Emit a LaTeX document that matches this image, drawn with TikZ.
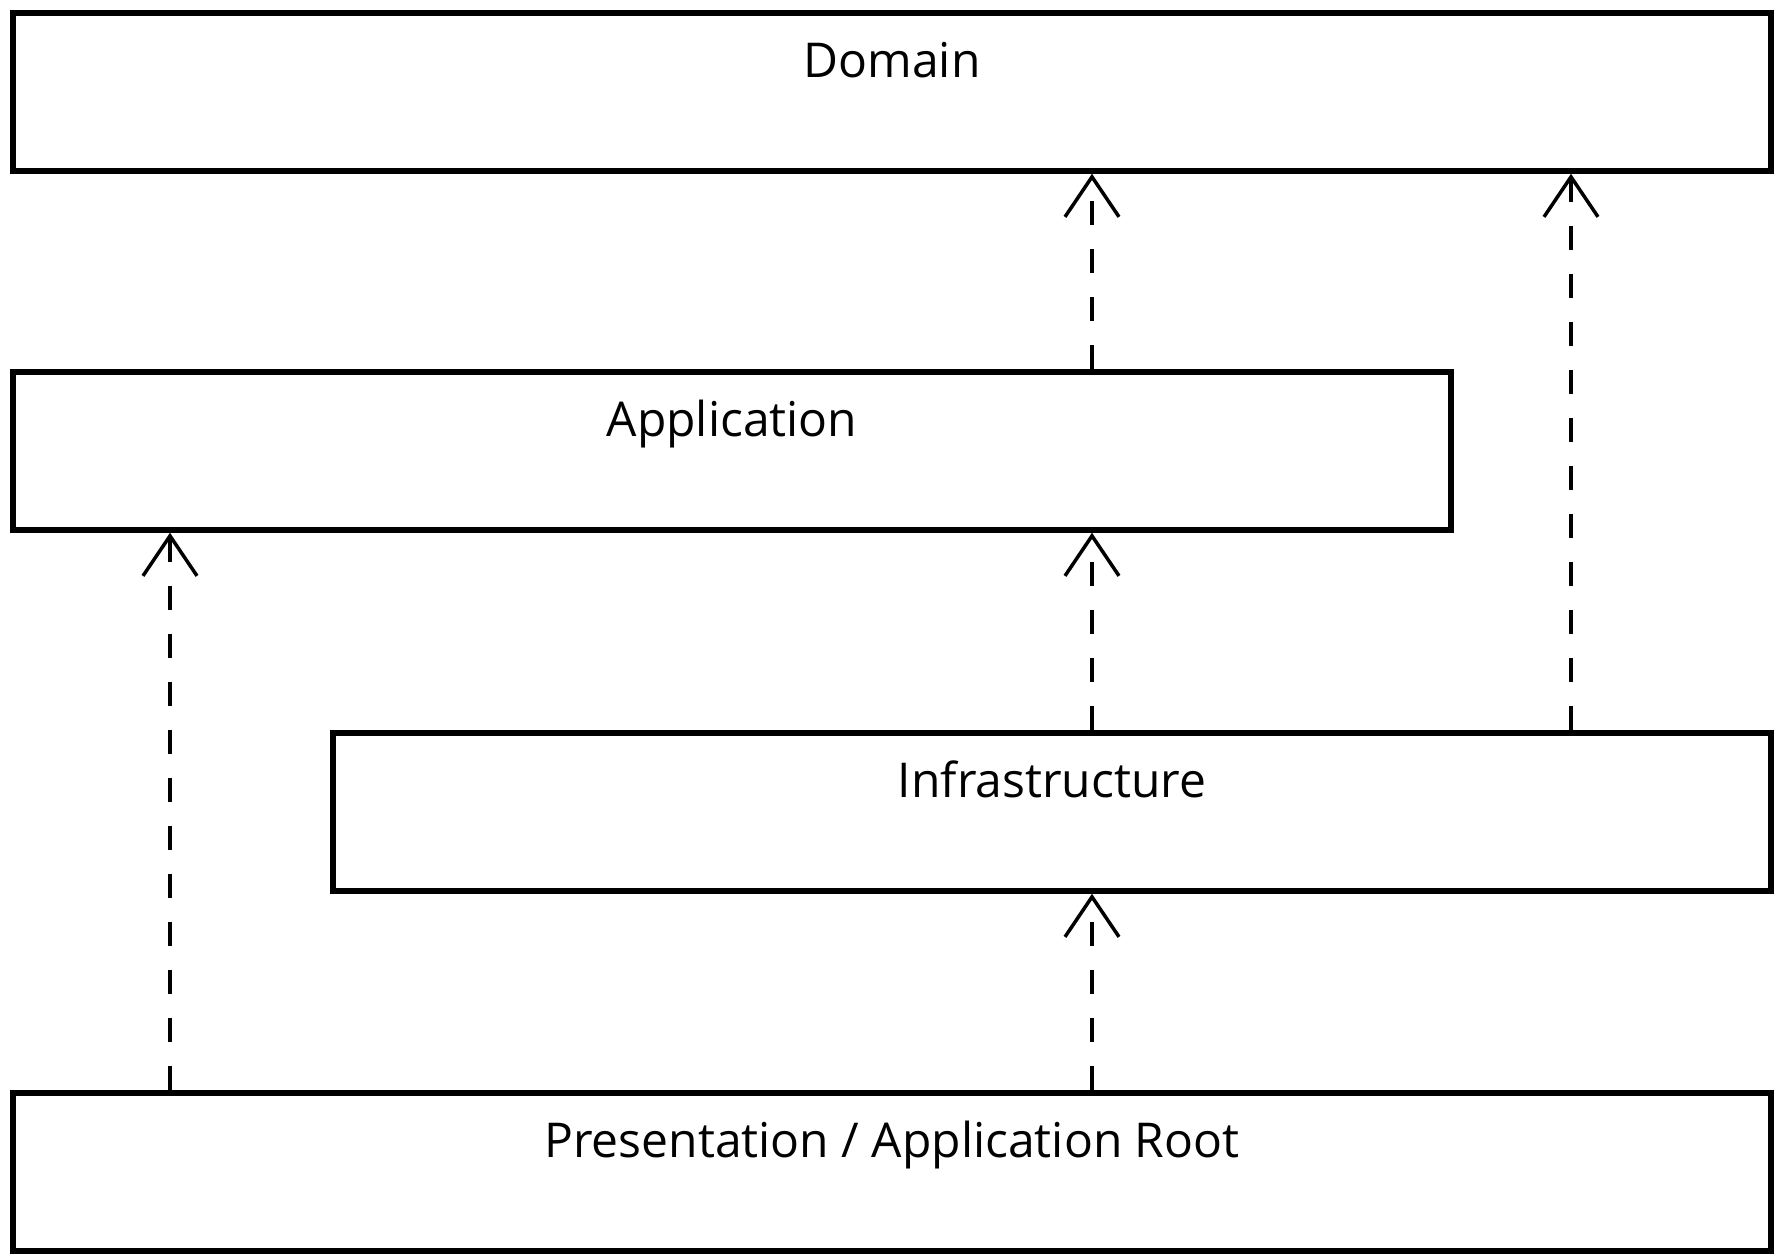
\documentclass[tikz,border=0pt]{standalone}
\usepackage{fontspec}
\setmainfont{Open Sans}
\usetikzlibrary{arrows.meta}

\tikzset{
  layer/.style={draw, line width=5.5pt, inner sep=0pt, minimum height=158pt,
    text height=65pt, text depth=93pt, font=\fontsize{48}{58}\selectfont},
  dep/.style={line width=3.5pt, dash pattern=on 24pt off 24pt,
    -{Straight Barb[length=40pt,width=54pt,line width=3.5pt]}}
}

\begin{document}
\begin{tikzpicture}[x=1pt,y=1pt]
\useasboundingbox (0,0) rectangle (1780,1260);
\node[layer, minimum width=1758pt] (dom) at (892,1168) {Domain};
\node[layer, minimum width=1438pt] (app) at (732,809) {Application};
\node[layer, minimum width=1438pt] (infra) at (1052,448) {Infrastructure};
\node[layer, minimum width=1758pt] (pres) at (892,88) {Presentation / Application Root};
\coordinate (left) at (170,0);
\coordinate (mid) at (1092,0);
\coordinate (right) at (1571,0);
\draw[dep] (app.north -| mid) -- (dom.south -| mid);
\draw[dep] (infra.north -| right) -- (dom.south -| right);
\draw[dep] (infra.north -| mid) -- (app.south -| mid);
\draw[dep] (pres.north -| left) -- (app.south -| left);
\draw[dep] (pres.north -| mid) -- (infra.south -| mid);
\end{tikzpicture}
\end{document}
